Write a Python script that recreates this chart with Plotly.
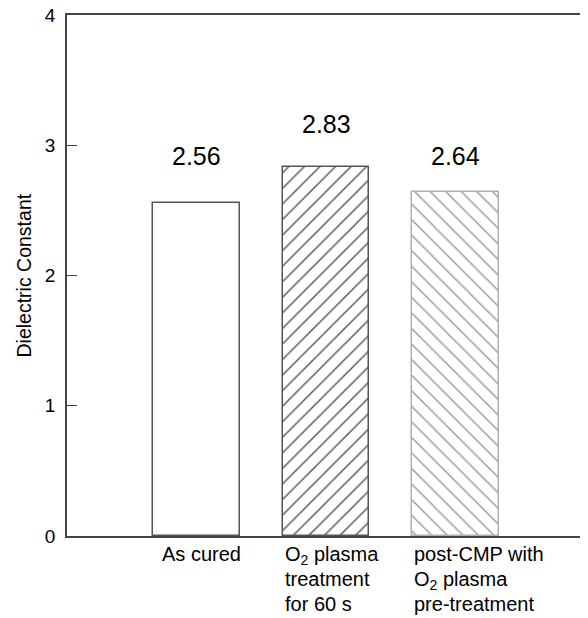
import plotly.graph_objects as go

categories = ["As cured", "O2 plasma treatment for 60 s", "post-CMP with O2 plasma pre-treatment"]
values = [2.56, 2.83, 2.64]
value_labels = ["2.56", "2.83", "2.64"]
label_heights = [2.92, 3.165, 2.92]
category_lines = [
    ["As cured"],
    ["O<sub>2</sub> plasma", "treatment", "for 60 s"],
    ["post-CMP with", "O<sub>2</sub> plasma", "pre-treatment"],
]
y_ticks = [0, 1, 2, 3, 4]

FONT = "Liberation Sans, Arial, sans-serif"
xpos = list(range(len(categories)))

hatch_shapes = ["", "/", "\\"]
hatch_colors = ["#555555", "#555555", "#9a9a9a"]
outline_colors = ["#555555", "#555555", "#b0b0b0"]

fig = go.Figure()
for i in range(len(categories)):
    fig.add_trace(go.Bar(
        x=[xpos[i]], y=[values[i]], width=0.667,
        marker=dict(
            color="white",
            line=dict(color=outline_colors[i], width=1.5),
            pattern=dict(shape=hatch_shapes[i], fgcolor=hatch_colors[i],
                         bgcolor="white", fgopacity=1,
                         size=11, solidity=0.13, fillmode="overlay"),
        ),
        showlegend=False, hoverinfo="skip",
    ))

for i, (lab, h) in enumerate(zip(value_labels, label_heights)):
    fig.add_annotation(x=xpos[i], y=h, text=lab, showarrow=False,
                       font=dict(family=FONT, size=25, color="black"),
                       xanchor="center", yanchor="middle")

x_offsets = [-0.28, -0.33, -0.335]
for i, lines in enumerate(category_lines):
    for j, line in enumerate(lines):
        fig.add_annotation(x=xpos[i] + x_offsets[i], y=0, yref="y", text=line,
                           showarrow=False, xanchor="left", yanchor="top",
                           yshift=-5 - 25 * j,
                           font=dict(family=FONT, size=20, color="black"))

fig.add_annotation(xref="paper", yref="paper", x=-44 / 518, y=0.5,
                   text="Dielectric Constant", textangle=-90, showarrow=False,
                   xanchor="center", yanchor="middle",
                   font=dict(family=FONT, size=19.5, color="black"))

fig.update_layout(
    width=580, height=610,
    margin=dict(l=59, r=3, t=7, b=82, autoexpand=False),
    paper_bgcolor="white", plot_bgcolor="white",
    font=dict(family=FONT, color="black"),
    bargap=0,
)
fig.update_xaxes(range=[-1, 3], showticklabels=False, ticks="",
                 showgrid=False, zeroline=False, automargin=False,
                 showline=True, linecolor="#444444", linewidth=1.5, mirror=True)
fig.update_yaxes(range=[0, 4], tickvals=y_ticks, ticks="inside", ticklen=10,
                 tickcolor="#444444", tickwidth=1, ticklabelstandoff=6,
                 ticklabeloverflow="allow",
                 tickfont=dict(family=FONT, size=19, color="black"),
                 showgrid=False, zeroline=False, automargin=False,
                 showline=True, linecolor="#444444", linewidth=1.5, mirror=True)

fig.write_html("out.html")
